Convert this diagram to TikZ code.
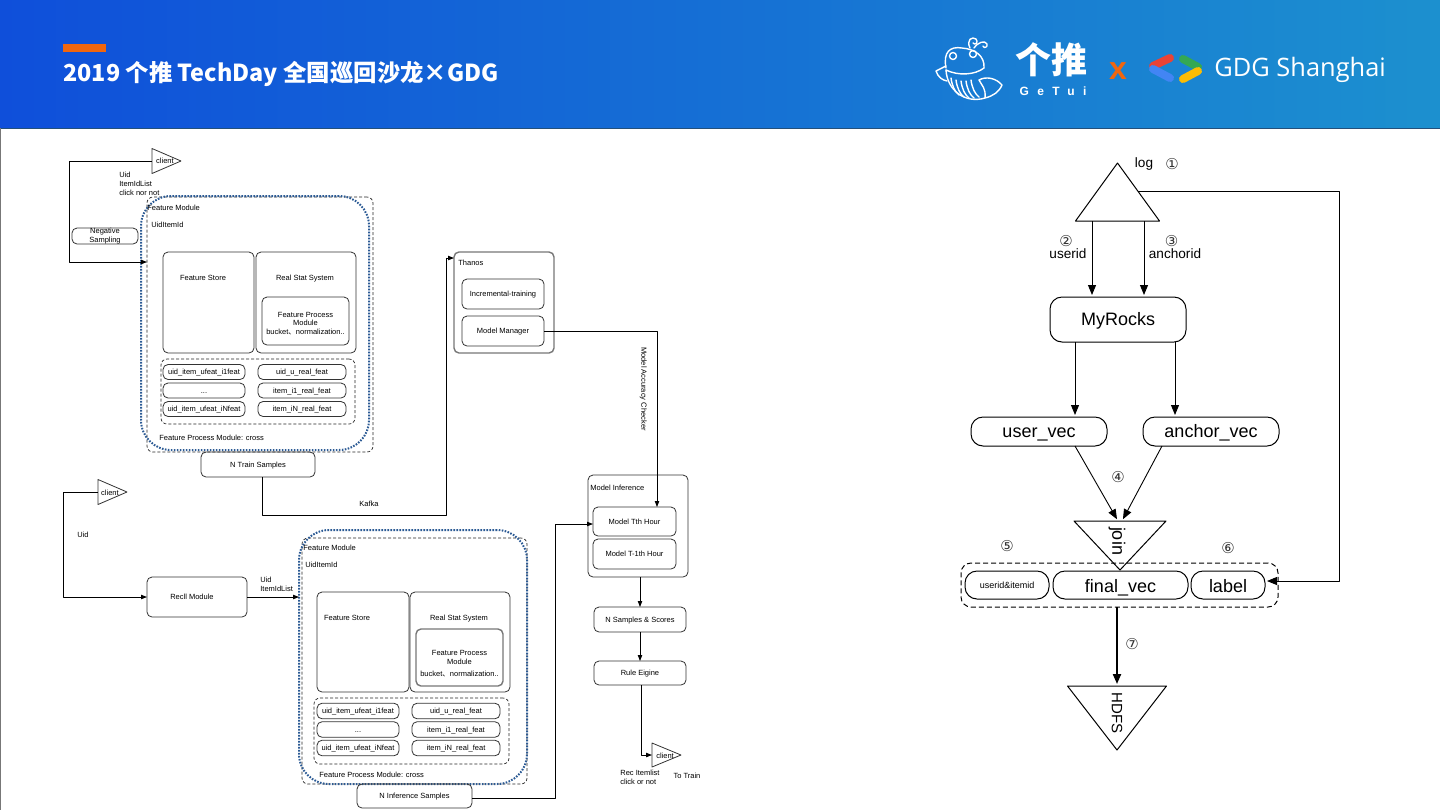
\documentclass[tikz,border=0pt]{standalone}
\usepackage{fontspec}
\setmainfont{Liberation Sans}
\newfontfamily\cjk{Noto Sans CJK SC}
\newfontfamily\sym{DejaVu Sans}
\newfontfamily\spaced[LetterSpace=70]{Liberation Sans}
\newfontfamily\gdgfont{Open Sans}
\usetikzlibrary{arrows.meta, positioning, shapes.geometric}
\definecolor{hdrLeft}{HTML}{0F4FDA}
\definecolor{hdrMid}{HTML}{1A62E0}
\definecolor{hdrRight}{HTML}{1C90CF}
\definecolor{hdrEdge}{HTML}{24507A}
\definecolor{barOrange}{HTML}{F0660F}
\definecolor{ringBlue}{HTML}{2B5A94}
\definecolor{lineDark}{HTML}{333333}
\definecolor{lineGray}{HTML}{777777}
\definecolor{gdgRed}{HTML}{EA4335}
\definecolor{gdgBlue}{HTML}{4285F4}
\definecolor{gdgGreen}{HTML}{34A853}
\definecolor{gdgYellow}{HTML}{FBBC04}
\tikzset{
  sz/.style 2 args={minimum width=#1*0.5pt, minimum height=#2*0.5pt},
  arrowS/.style={-{Stealth[length=3pt, width=2.2pt, inset=0pt]}, black, line width=0.4pt},
  arrowL/.style={-{Stealth[length=5pt, width=4pt, inset=0pt]}, black, line width=0.45pt, shorten >=1pt},
  arrowT/.style={arrowL, line width=1pt},
  boxM/.style={rectangle, rounded corners=2.5pt, draw=lineDark, line width=0.4pt, inner sep=0pt,
               outer sep=0pt, align=center, font=\fontsize{3.75}{4.4}\selectfont},
  boxS/.style={boxM, text height=3.2pt, text depth=0.5pt},
  boxG/.style={boxM, draw=lineGray, line width=0.7pt},
  boxL/.style={rectangle, rounded corners=6pt, draw=black, line width=0.5pt, inner sep=0pt,
               outer sep=0pt, align=center, text height=6.5pt, text depth=1pt,
               font=\fontsize{9}{11}\selectfont},
  boxJ/.style={boxL, text height=7.5pt, text depth=0.5pt},
  groupD/.style={rectangle, rounded corners=3pt, draw=black!85, line width=0.35pt, dashed,
                 dash pattern=on 1.5pt off 1pt, inner sep=0pt, outer sep=0pt},
  ringD/.style={rectangle, rounded corners=15pt, draw=ringBlue, line width=1pt,
                dash pattern=on 0.8pt off 0.7pt, inner sep=0pt, outer sep=0pt},
  triS/.style={isosceles triangle, isosceles triangle stretches, draw=lineDark, line width=0.4pt,
               inner sep=0pt, outer sep=0pt},
  triL/.style={triS, draw=black, line width=0.5pt},
  txtB/.style={inner sep=0pt, align=left, font=\fontsize{3.75}{4.5}\selectfont},
  txtS/.style={txtB, text height=3.7pt, text depth=0pt},
  txtM/.style={inner sep=0pt, align=center, font=\fontsize{6.8}{6.8}\selectfont},
  numD/.style={inner sep=0pt, font=\sym\fontsize{7.5}{8}\selectfont, text=black!80},
}
\begin{document}
\begin{tikzpicture}[x=0.5pt, y=-0.5pt, line join=round]
    \useasboundingbox (0,0) rectangle (1440,810);
    % header
    \fill[white] (0,0) rectangle (1440,810);
    \shade[left color=hdrLeft, middle color=hdrMid, right color=hdrRight] (0,0) rectangle (1440,128);
    \draw[hdrEdge, line width=0.5pt] (0,128.5) -- (1440,128.5);
    \draw[lineGray, line width=0.5pt] (0.5,128) -- (0.5,810);
    \fill[barOrange] (63,44) rectangle (106,52);
    \node[anchor=west, inner sep=0pt, text=white, font=\cjk\bfseries\fontsize{11.7}{14}\selectfont]
          (title) at (63,73.5) {2019 个推 TechDay 全国巡回沙龙×GDG};
    \begin{scope}[white, line width=0.7pt, line cap=round]
      \draw (946,68) .. controls (943,52) and (950,46) .. (962,48) .. controls (975,49) and (985,56) .. (984,68);
      \draw (946,70) .. controls (958,76) and (975,75) .. (984,68);
      \draw (946,70) .. controls (947,90) and (965,104) .. (985,98) .. controls (993,96) and (999,92) .. (1002,85)
            .. controls (996,78) and (986,76) .. (979,80) .. controls (982,86) and (986,88) .. (985,98);
      \draw (946,66) -- (936,71) .. controls (938,77) and (942,80) .. (947,81);
      \foreach \px/\py in {951/78, 956/80, 961/81, 966/81, 971/80} {
        \draw (\px,\py) .. controls (\px+1,\py+8) and (\px+4,\py+14) .. (\px+8,\py+17);
      }
      \draw (953,56) circle (3.5);
      \draw (973,54) circle (3.5);
      \draw (970,48) .. controls (966,40) and (972,36) .. (976,39) .. controls (979,42) and (975,46) .. (973,43);
      \draw (974,48) .. controls (978,42) and (985,40) .. (987,44) .. controls (988,47) and (984,49) .. (983,46);
    \end{scope}
    \node[inner sep=0pt, text=white, font=\cjk\bfseries\fontsize{18}{20}\selectfont] (getui) at (1051,60) {个推};
    \node[inner sep=0pt, text=white, font=\spaced\bfseries\fontsize{6}{6}\selectfont] (getuiEn) at (1053,91) {GeTui};
    \node[inner sep=0pt, text=barOrange, font=\bfseries\fontsize{16}{16}\selectfont] (times) at (1118,71) {x};
    \draw[gdgRed, line width=4pt, line cap=round] (1153,66) -- (1170,58);
    \draw[gdgBlue, line width=4pt, line cap=round] (1153,69) -- (1170,78);
    \draw[gdgGreen, line width=4pt, line cap=round] (1183,59) -- (1198,67);
    \draw[gdgYellow, line width=4pt, line cap=round] (1183,79) -- (1198,71);
    \node[inner sep=0pt, text=white, anchor=west, font=\gdgfont\fontsize{12.7}{14}\selectfont]
          (gdg) at (1214,70) {GDG Shanghai};

    % upper feature module
    \node[triS, anchor=apex, minimum width=12.5pt, minimum height=14.5pt] (clientA) at (181,161) {};
    \node[txtS] (clientAt) at (165,160) {client};
    \node[txtB, anchor=north west] (uidA) at (119,171.5) {Uid\\ItemIdList\\click nor not};
    \node[boxM, sz={66}{16}] (negS) at (105,236) {Negative\\Sampling};
    \node[groupD, sz={226}{255}] (modA) at (260,324.5) {};
    \node[ringD, sz={228}{254}] (ringA) at (255,323) {};
    \node[txtS, anchor=west] (modAt) at (147,207) {Feature Module};
    \node[txtS, anchor=west] (idsA) at (151,224) {UidItemId};
    \node[boxS, sz={91}{101}] (storeA) at (208.5,302.5) {};
    \node[boxS, sz={100}{101}, right=1pt of storeA] (statA) {};
    \node[txtS] (storeAt) at (203,277) {Feature Store};
    \node[txtS] (statAt) at (305,277) {Real Stat System};
    \node[boxM, sz={87}{48}] (procA) at (305.5,321) {\mbox{}\\[0.6pt]Feature Process\\Module\\bucket{\cjk 、}normalization..};
    \node[groupD, sz={194}{65}] (featsA) at (258,391.5) {};
    \node[boxS, sz={82}{15}] (userA) at (204,372) {uid\_item\_ufeat\_i1feat};
    \node[boxS, sz={82}{15}, below=1.75pt of userA] (dotsA) {...};
    \node[boxS, sz={82}{15}, below=1.75pt of dotsA] (lastA) {uid\_item\_ufeat\_iNfeat};
    \node[boxS, sz={88}{15}, right=6.5pt of userA] (realA) {uid\_u\_real\_feat};
    \node[boxS, sz={88}{15}, right=6.5pt of dotsA] (itemA) {item\_i1\_real\_feat};
    \node[boxS, sz={88}{15}, right=6.5pt of lastA] (itemNA) {item\_iN\_real\_feat};
    \node[txtS, anchor=west] (crossA) at (159,437) {Feature Process Module: cross};
    \node[boxS, sz={114}{25}] (trainS) at (258,464.5) {N Train Samples};
    \node[txtS] (kafka) at (369,503) {Kafka};
    \coordinate (turnA) at (69,262);
    \draw[arrowS] (clientA.lower side) -| (turnA) -- (modA.west |- turnA);

    % thanos
    \node[boxG, sz={100}{101}] (thanos) at (504,302.5) {};
    \node[txtS, anchor=west] (thanosT) at (458,262) {Thanos};
    \node[boxS, sz={82}{30}] (incr) at (503,294) {Incremental-training};
    \node[boxS, sz={82}{30}, below=3.5pt of incr] (mgr) {Model Manager};
    \coordinate (kafkaA) at (262,515);
    \coordinate (kafkaB) at (446,258);
    \draw[arrowS] (trainS.south -| kafkaA) -- (kafkaA) -| (kafkaB) -- (thanos.west |- kafkaB);

    % lower feature module
    \node[triS, anchor=apex, minimum width=12.5pt, minimum height=14.5pt] (clientB) at (127,492) {};
    \node[txtS] (clientBt) at (110,492) {client};
    \node[txtS] (uidB) at (83,534) {Uid};
    \node[boxS, sz={100}{40}] (recall) at (197,597) {Recll Module\hspace*{5pt}};
    \node[txtB, anchor=west] (listB) at (260,584.5) {Uid\\ItemIdList};
    \node[groupD, sz={225}{246}] (modB) at (414.5,661) {};
    \node[ringD, sz={228}{254}] (ringB) at (413,657) {};
    \node[txtS, anchor=west] (modBt) at (303,547) {Feature Module};
    \node[txtS, anchor=west] (idsB) at (305,564) {UidItemId};
    \node[boxS, sz={92}{100}] (storeB) at (363,642) {};
    \node[boxS, sz={100}{100}, right=0.5pt of storeB] (statB) {};
    \node[txtS] (storeBt) at (347,617) {Feature Store};
    \node[txtS] (statBt) at (459,617) {Real Stat System};
    \node[boxG, sz={87}{57}] (procB) at (459.5,657.5) {\mbox{}\\[4.4pt]Feature Process\\Module\\[1.5pt]bucket{\cjk 、}normalization..};
    \node[groupD, sz={195}{66}] (featsB) at (411.5,731) {};
    \node[boxS, sz={82}{15.5}] (userB) at (358,711) {uid\_item\_ufeat\_i1feat};
    \node[boxS, sz={82}{15.5}, below=1.5pt of userB] (dotsB) {...};
    \node[boxS, sz={82}{15.5}, below=1.5pt of dotsB] (lastB) {uid\_item\_ufeat\_iNfeat};
    \node[boxS, sz={88}{15.5}, right=6.5pt of userB] (realB) {uid\_u\_real\_feat};
    \node[boxS, sz={88}{15.5}, right=6.5pt of dotsB] (itemB) {item\_i1\_real\_feat};
    \node[boxS, sz={88}{15.5}, right=6.5pt of lastB] (itemNB) {item\_iN\_real\_feat};
    \node[txtS, anchor=west] (crossB) at (319,774) {Feature Process Module: cross};
    \node[boxS, sz={115}{24}] (infS) at (414.5,796) {N Inference Samples};
    \coordinate (turnB) at (63,597);
    \draw[arrowS] (clientB.lower side) -| (turnB) -- (recall.west);
    \draw[arrowS] (recall.east) -- (ringB.west |- recall.east);

    % model inference
    \node[boxS, sz={100}{102}] (infer) at (638,526) {};
    \node[txtS, anchor=west] (inferT) at (590,487) {Model Inference};
    \node[boxS, sz={83}{29}] (tth) at (634.5,521.5) {Model Tth Hour};
    \node[boxS, sz={83}{30}, below=1.5pt of tth] (t1th) {Model T-1th Hour};
    \node[boxS, sz={92}{25}] (nSamples) at (640,619.5) {N Samples \& Scores};
    \node[boxS, sz={92}{24}, below=14.5pt of nSamples] (rule) {Rule Eigine};
    \node[triS, anchor=apex, minimum width=12pt, minimum height=14.5pt] (clientC) at (681,755) {};
    \node[txtS] (clientCt) at (665,755) {client};
    \node[txtB, anchor=west] (recT) at (620,777.5) {Rec Itemlist\\click or not};
    \node[txtS] (toTrain) at (687,775) {To Train};
    \node[txtS, rotate=-90] (checker) at (645,389) {Model Accuracy Checker};
    \coordinate (mgrTurn) at (657,331);
    \coordinate (infTurn) at (555,798);
    \coordinate (infIn) at (555,524);
    \coordinate (ruleTurn) at (641,755);
    \draw[arrowS] (mgr.east |- mgrTurn) -- (mgrTurn) -- (tth.north -| mgrTurn);
    \draw[arrowS] (infS.east |- infTurn) -- (infTurn) -- (infIn) -- (tth.west |- infIn);
    \draw[arrowS] (nSamples.north |- infer.south) -- (nSamples.north);
    \draw[arrowS] (nSamples.south) -- (rule.north);
    \draw[arrowS] (rule.south -| ruleTurn) -- (ruleTurn) -- (clientC.lower side);

    % right flow
    \node[triL, anchor=apex, shape border rotate=90, minimum width=42pt, minimum height=29pt] (log) at (1117.5,163) {};
    \node[txtM] (logT) at (1144,163.5) {log};
    \node[numD] (n1) at (1172,164) {①};
    \node[numD] (n2) at (1066,241) {②};
    \node[txtM] (useridT) at (1068,254) {userid};
    \node[numD] (n3) at (1171.5,241) {③};
    \node[txtM] (anchoridT) at (1175,254) {anchorid};
    \node[boxL, sz={136}{45}] (myrocks) at (1118,319.5) {MyRocks};
    \node[boxL, sz={136}{29}] (userVec) at (1039,431.5) {user\_vec};
    \node[boxL, sz={136}{29}, right=18pt of userVec] (anchorVec) {anchor\_vec};
    \node[numD] (n4) at (1118,477) {④};
    \node[numD] (n5) at (1007,546) {⑤};
    \node[numD] (n6) at (1228,548) {⑥};
    \node[groupD, rounded corners=5pt, draw=black, line width=0.5pt, dash pattern=on 2.5pt off 1.5pt, sz={317}{44}] (group) at (1119.5,585) {};
    \node[boxL, sz={84}{28}, text height=3.5pt, text depth=0.5pt, font=\fontsize{4.5}{5}\selectfont] (idBox) at (1007,585) {userid\&itemid};
    \node[boxJ, sz={135}{28}, right=2pt of idBox] (finalVec) {final\_vec};
    \node[boxJ, sz={74}{28}, right=1.5pt of finalVec] (labelBox) {label};
    \node[triL, anchor=apex, shape border rotate=-90, minimum width=46pt, minimum height=24.5pt] (join) at (1120,570) {};
    \node[inner sep=0pt, rotate=-90, font=\fontsize{9}{9}\selectfont] (joinT) at (1117,541) {join};
    \node[numD] (n7) at (1132,644) {⑦};
    \node[triL, anchor=apex, shape border rotate=-90, minimum width=49.5pt, minimum height=32pt] (hdfs) at (1117,750) {};
    \node[inner sep=0pt, rotate=-90, font=\fontsize{7.5}{8}\selectfont] (hdfsT) at (1117,713) {HDFS};
    \coordinate (logUser) at (1092,221);
    \coordinate (logAnchor) at (1144,221);
    \coordinate (rockUser) at (1075,342);
    \coordinate (rockAnchor) at (1175,342);
    \coordinate (vecUser) at (1075,446);
    \coordinate (vecAnchor) at (1162,446);
    \coordinate (logSide) at (1138,191);
    \coordinate (logTurn) at (1339,581);
    \draw[arrowL] (logUser) -- (logUser |- myrocks.north);
    \draw[arrowL] (logAnchor) -- (logAnchor |- myrocks.north);
    \draw[arrowL] (rockUser) -- (rockUser |- userVec.north);
    \draw[arrowL] (rockAnchor) -- (rockAnchor |- anchorVec.north);
    \draw[arrowL] (vecUser) -- (1118,521);
    \draw[arrowL] (vecAnchor) -- (1122,521);
    \draw[arrowL] (logSide) -| (logTurn) -- (labelBox.east |- logTurn);
    \draw[arrowT] (hdfs.lower side |- group.south) -- (hdfs.lower side);
\end{tikzpicture}
\end{document}
